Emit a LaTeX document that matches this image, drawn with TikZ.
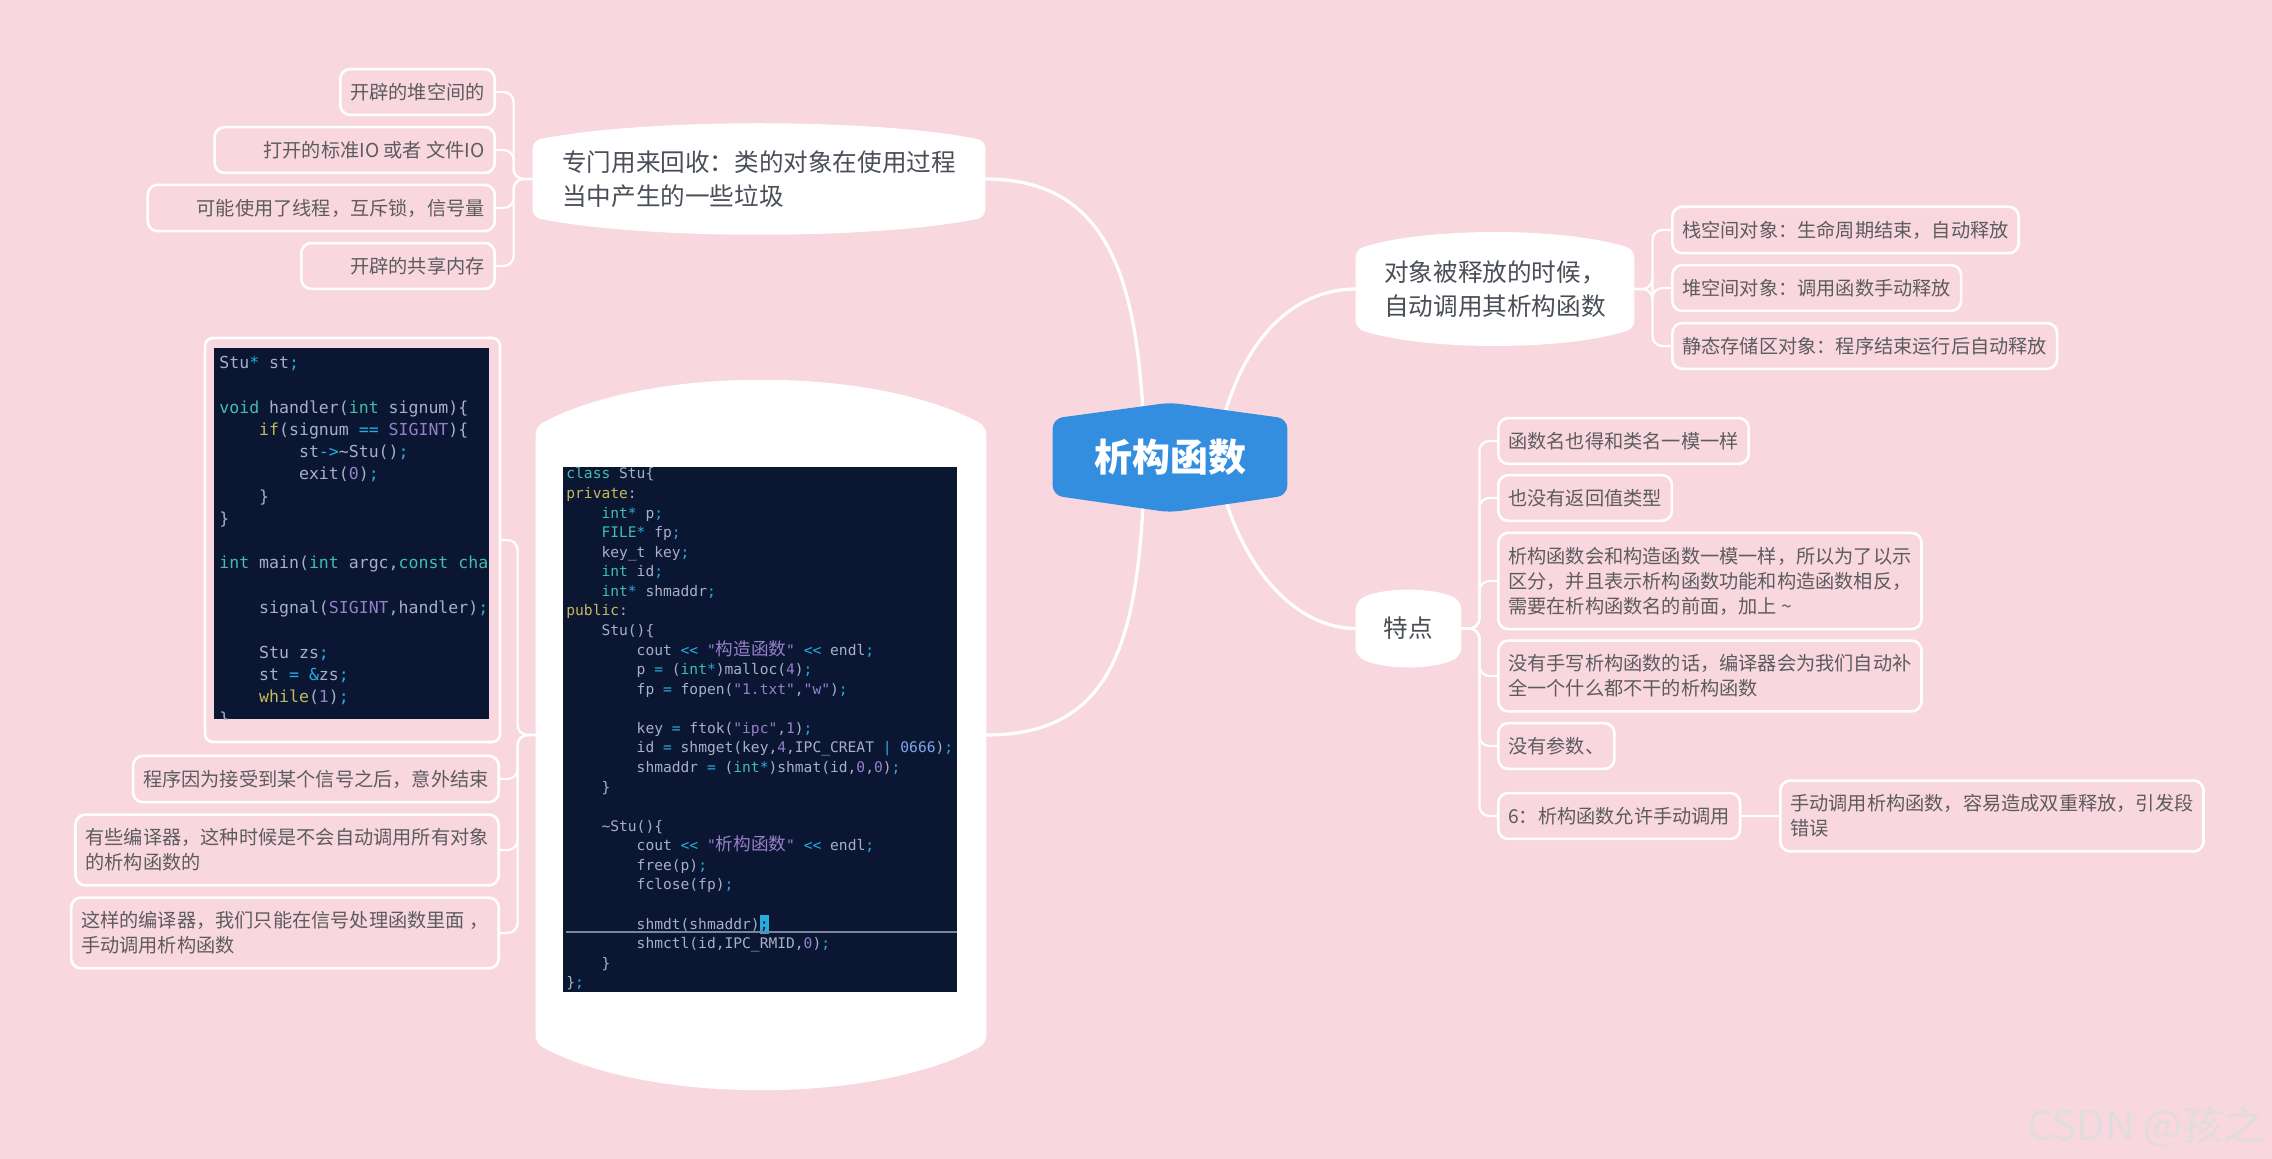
\documentclass[tikz,border=0pt]{standalone}
\usepackage{fontspec}
\setmainfont{Noto Sans CJK SC}
\newfontfamily\cjkfont{Noto Sans CJK SC}
\newfontfamily\codefont{DejaVu Sans Mono}
\usetikzlibrary{calc}

\definecolor{bgpink}{RGB}{249,215,222}
\definecolor{rootblue}{RGB}{51,142,224}
\definecolor{topictext}{RGB}{74,79,87}
\definecolor{leaftext}{RGB}{92,92,96}
\definecolor{codebg}{RGB}{11,22,51}
\definecolor{codefg}{RGB}{166,176,198}
\definecolor{codekw}{RGB}{64,190,168}
\definecolor{codectl}{RGB}{196,186,92}
\definecolor{codestr}{RGB}{150,128,200}
\definecolor{codeop}{RGB}{40,172,222}
\definecolor{codenum}{RGB}{126,166,230}
\definecolor{codecursor}{RGB}{120,134,160}
\definecolor{markgray}{RGB}{224,220,224}

% 代码着色
\newcommand\ckw[1]{\textcolor{codekw}{#1}}
\newcommand\cctl[1]{\textcolor{codectl}{#1}}
\newcommand\cstr[1]{\textcolor{codestr}{#1}}
\newcommand\cop[1]{\textcolor{codeop}{#1}}
\newcommand\cnum[1]{\textcolor{codenum}{#1}}
\newcommand\cshl{\cop{<}\cop{<}}
\newcommand\czh[1]{{\cjkfont\fontsize{8.8pt}{9.8pt}\selectfont #1}}
\newcommand\ctab{\phantom{xxxx}}

\pgfdeclarelayer{back}
\pgfdeclarelayer{lines}
\pgfdeclarelayer{shapes}
\pgfsetlayers{back,lines,shapes,main}

% 白色主题框：上下两边向外鼓起
\newcommand\topicshape[2]{%
  \begin{pgfonlayer}{shapes}
    \fill[white, rounded corners=4pt] (#1.south west) -- (#1.north west)
      .. controls ($(#1.north west)!0.25!(#1.north east)+(0,-1.33*#2)$)
      and ($(#1.north west)!0.75!(#1.north east)+(0,-1.33*#2)$) .. (#1.north east)
      -- (#1.south east)
      .. controls ($(#1.south west)!0.75!(#1.south east)+(0,1.33*#2)$)
      and ($(#1.south west)!0.25!(#1.south east)+(0,1.33*#2)$) .. (#1.south west)
      -- cycle;
  \end{pgfonlayer}}

\tikzset{
  rootnode/.style={
    text=white,
    font=\fontsize{19pt}{22pt}\selectfont\bfseries,
    minimum width=117pt,
    minimum height=38pt,
    inner sep=0pt
  },
  topic/.style={
    text=topictext,
    font=\fontsize{12.3pt}{17pt}\selectfont,
    align=left,
    inner sep=0pt
  },
  leaf/.style={
    draw=white,
    line width=1.3pt,
    fill=bgpink,
    rounded corners=5pt,
    text=leaftext,
    font=\fontsize{9.6pt}{12.5pt}\selectfont,
    align=left,
    inner xsep=5pt,
    inner ysep=7pt
  },
  padleft/.style={
    execute at begin node={\hspace*{19.5pt}}
  },
  branch/.style={
    draw=white,
    line width=1.6pt
  },
  twig/.style={
    draw=white,
    line width=1.1pt,
    rounded corners=5pt
  },
  codebox/.style={
    fill=codebg,
    inner sep=0pt
  },
  bigline/.style={
    text=codefg,
    font=\codefont\fontsize{7.3pt}{9.8pt}\selectfont,
    inner sep=0pt,
    anchor=base west
  },
  smallline/.style={
    text=codefg,
    font=\codefont\fontsize{8.27pt}{11pt}\selectfont,
    inner sep=0pt,
    anchor=base west
  }
}

\begin{document}
\begin{tikzpicture}[x=0.5pt, y=-0.5pt]
    % 画布：1单位 = 参考图 1 像素
    \useasboundingbox (0,0) rectangle (2272,1159);
    \begin{pgfonlayer}{back}
      \fill[bgpink] (0,0) rectangle (2272,1159);
    \end{pgfonlayer}

    % 中心主题
    \node[rootnode] (root) at (1170,457) {析构函数};
    \begin{pgfonlayer}{shapes}
      \fill[rootblue, rounded corners=5pt] (root.south west) -- (root.north west)
        -- ($(root.north)+(0,-16)$) -- (root.north east) -- (root.south east)
        -- ($(root.south)+(0,17)$) -- cycle;
    \end{pgfonlayer}

    % 四个分支主题
    \node[topic, minimum width=226pt, minimum height=38pt] (recycle) at (759,179)
      {专门用来回收：类的对象在使用过程\\当中产生的一些垃圾};
    \node[topic, minimum width=139pt, minimum height=39pt] (release) at (1495,289)
      {对象被释放的时候，\\自动调用其析构函数};
    \node[topic, minimum width=52.5pt, minimum height=26.5pt] (feature) at (1408.5,628.5) {特点};
    \node[minimum width=225pt, minimum height=308pt, inner sep=0pt] (demo) at (761,735) {};
    \topicshape{recycle}{17}
    \topicshape{release}{17}
    \topicshape{feature}{11}
    \topicshape{demo}{46}

    % 左上：回收的内容
    \node[leaf, anchor=east] (heap) at (496,92) {开辟的堆空间的};
    \node[leaf, padleft, anchor=east] (stdio) at (496,150) {打开的标准IO 或者 文件IO};
    \node[leaf, padleft, anchor=east] (thread) at (496,208) {可能使用了线程，互斥锁，信号量};
    \node[leaf, padleft, anchor=east] (shm) at (496,266) {开辟的共享内存};

    % 右上：释放时机
    \node[leaf, anchor=west] (stack) at (1671,230) {栈空间对象：生命周期结束，自动释放};
    \node[leaf, anchor=west] (heapobj) at (1671,288) {堆空间对象：调用函数手动释放};
    \node[leaf, anchor=west] (static) at (1671,346) {静态存储区对象：程序结束运行后自动释放};

    % 右下：特点
    \node[leaf, anchor=west] (samename) at (1497,441) {函数名也得和类名一模一样};
    \node[leaf, anchor=west] (noreturn) at (1497,498) {也没有返回值类型};
    \node[leaf, anchor=west] (tilde) at (1497,581)
      {析构函数会和构造函数一模一样，所以为了以示\\区分，并且表示析构函数功能和构造函数相反，\\需要在析构函数名的前面，加上 \textasciitilde};
    \node[leaf, anchor=west] (autogen) at (1497,676)
      {没有手写析构函数的话，编译器会为我们自动补\\全一个什么都不干的析构函数};
    \node[leaf, anchor=west] (noparam) at (1497,746) {没有参数、};
    \node[leaf, anchor=west] (manual) at (1497,816) {6：析构函数允许手动调用};
    \node[leaf, anchor=west] (doublefree) at (1779,816)
      {手动调用析构函数，容易造成双重释放，引发段\\错误};

    % 左下：信号处理示例
    \node[draw=white, line width=1.3pt, rounded corners=4pt, minimum width=147.5pt,
      minimum height=202pt] (smallframe) at (352.5,540) {};
    \node[codebox, minimum width=137.5pt, minimum height=185.5pt] (smallcode) at (351.5,533.5) {};
    \node[leaf, anchor=east] (sigexit) at (500,779) {程序因为接受到某个信号之后，意外结束};
    \node[leaf, anchor=east] (nocall) at (500,850)
      {有些编译器，这种时候是不会自动调用所有对象\\的析构函数的};
    \node[leaf, anchor=east] (handcall) at (500,933)
      {这样的编译器，我们只能在信号处理函数里面 ，\\手动调用析构函数};

    \begin{scope}
      \clip (smallcode.north west) rectangle (smallcode.south east);
      \foreach \ln [count=\i from 0] in {
        {Stu\cop{*} st\cop{;}},
        {},
        {\ckw{void} handler(\ckw{int} signum)\{},
        {\ctab\cctl{if}(signum \cop{==} \cstr{SIGINT})\{},
        {\ctab\ctab st\cop{->}\textasciitilde Stu()\cop{;}},
        {\ctab\ctab exit(\cstr{0})\cop{;}},
        {\ctab\}},
        {\}},
        {},
        {\ckw{int} main(\ckw{int} argc,\ckw{const} \ckw{cha}},
        {},
        {\ctab signal(\cstr{SIGINT},handler)\cop{;}},
        {},
        {\ctab Stu zs\cop{;}},
        {\ctab st \cop{=} \cop{\&}zs\cop{;}},
        {\ctab\cctl{while}(\cstr{1})\cop{;}},
        {\}}
      }
        \node[smallline] (small\i) at (219,{368.5+22.27*\i}) {\ln};
    \end{scope}

    % 类 Stu 的代码
    \node[codebox, minimum width=197pt, minimum height=262.5pt] (bigcode) at (760,729.5) {};
    \begin{scope}
      \clip (bigcode.north west) rectangle (bigcode.south east);
      \fill[codeop] (760,915) rectangle (769,934);
      \draw[codecursor, line width=0.6pt] (566,932) -- (957,932);
      \foreach \ln [count=\i from 0] in {
        {\ckw{class} Stu\{},
        {\cctl{private}:},
        {\ctab\ckw{int}\cop{*} p\cop{;}},
        {\ctab\ckw{FILE}\cop{*} fp\cop{;}},
        {\ctab key\_t key\cop{;}},
        {\ctab\ckw{int} id\cop{;}},
        {\ctab\ckw{int}\cop{*} shmaddr\cop{;}},
        {\cctl{public}:},
        {\ctab Stu()\{},
        {\ctab\ctab cout \cshl{} \cstr{"\czh{构造函数}"} \cshl{} endl\cop{;}},
        {\ctab\ctab p \cop{=} (\ckw{int}\cop{*})malloc(\cstr{4})\cop{;}},
        {\ctab\ctab fp \cop{=} fopen(\cstr{"1.txt"},\cstr{"w"})\cop{;}},
        {},
        {\ctab\ctab key \cop{=} ftok(\cstr{"ipc"},\cstr{1})\cop{;}},
        {\ctab\ctab id \cop{=} shmget(key,\cstr{4},IPC\_CREAT \cop{|} \cnum{0666})\cop{;}},
        {\ctab\ctab shmaddr \cop{=} (\ckw{int}\cop{*})shmat(id,\cstr{0},\cstr{0})\cop{;}},
        {\ctab\}},
        {},
        {\ctab\textasciitilde Stu()\{},
        {\ctab\ctab cout \cshl{} \cstr{"\czh{析构函数}"} \cshl{} endl\cop{;}},
        {\ctab\ctab free(p)\cop{;}},
        {\ctab\ctab fclose(fp)\cop{;}},
        {},
        {\ctab\ctab shmdt(shmaddr)\textcolor{codebg}{;}},
        {\ctab\ctab shmctl(id,IPC\_RMID,\cstr{0})\cop{;}},
        {\ctab\}},
        {\}\cop{;}}
      }
        \node[bigline] (big\i) at (566,{479+19.57*\i}) {\ln};
    \end{scope}

    % 水印
    \node[font=\fontsize{20.5pt}{24pt}\selectfont, text=markgray, anchor=base east,
      inner sep=0pt] (mark) at (2265,1140) {CSDN @孩之};

    % 连线
    \begin{pgfonlayer}{lines}
      \draw[branch] ($(root.center)+(-25,0)$) .. controls +(-5,-157) and +(135,0) .. (recycle.east);
      \draw[branch] ($(root.center)+(-25,0)$) .. controls +(-5,170) and +(135,0) .. (demo.east);
      \draw[branch] ($(root.center)+(45,0)$) .. controls +(20,-120) and +(-60,0) .. (release.west);
      \draw[branch] ($(root.center)+(45,0)$) .. controls +(20,110) and +(-60,0) .. (feature.west);

      \foreach \leafname in {heap,stdio,thread,shm}
        \draw[twig] (recycle.west) -- ++(-19,0) |- (\leafname.east);
      \foreach \leafname in {stack,heapobj,static}
        \draw[twig] (release.east) -- ++(18,0) |- (\leafname.west);
      \foreach \leafname in {samename,noreturn,tilde,autogen,noparam,manual}
        \draw[twig] (feature.east) -- ++(18,0) |- (\leafname.west);
      \draw[twig] (manual.east) -- (doublefree.west);
      \foreach \leafname in {smallframe,sigexit,nocall,handcall}
        \draw[twig] (demo.west) -- ++(-18,0) |- (\leafname.east);
    \end{pgfonlayer}
  \end{tikzpicture}
\end{document}
